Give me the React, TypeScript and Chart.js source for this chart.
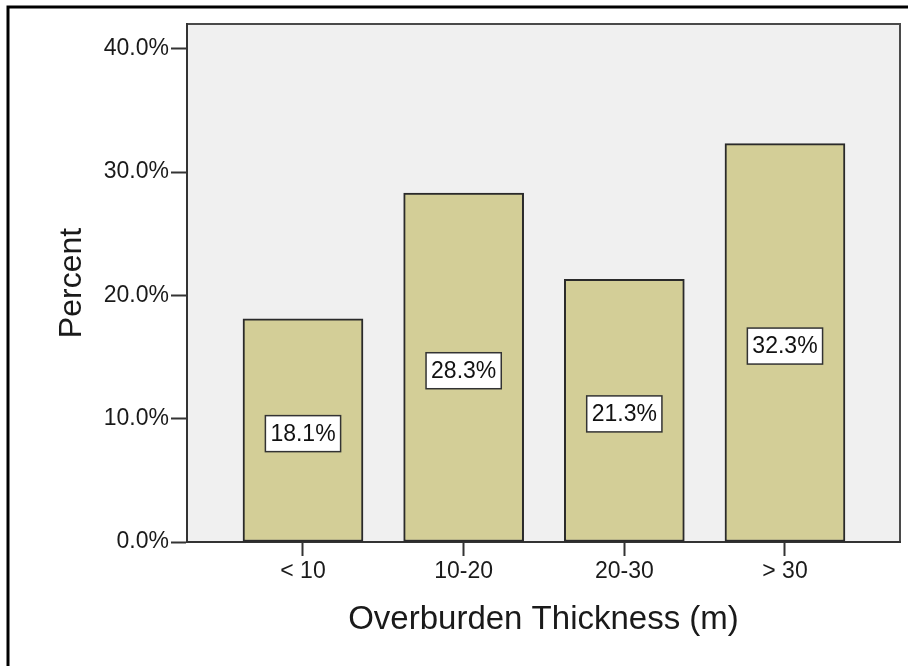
import React, { useEffect, useRef } from 'react';
import { Chart, registerables } from 'chart.js';

Chart.register(...registerables);

const categories = ['< 10', '10-20', '20-30', '> 30'];
const percents = [18.1, 28.3, 21.3, 32.3];
const yTickValues = [0, 10, 20, 30, 40];
const xTitle = 'Overburden Thickness (m)';
const yTitle = 'Percent';

const FONT = '"Liberation Sans", Arial, Helvetica, sans-serif';

export default function App() {
  const ref = useRef<HTMLCanvasElement>(null);

  useEffect(() => {
    const canvas = ref.current;
    if (!canvas) return;

    const framePlugin = {
      id: 'spssFrame',
      beforeDraw(chart: any) {
        const { ctx, chartArea: a } = chart;
        ctx.save();
        ctx.fillStyle = '#f0f0f0';
        ctx.fillRect(a.left, a.top, a.right - a.left, a.bottom - a.top);
        // outer frame (left + top)
        ctx.strokeStyle = '#000';
        ctx.lineWidth = 3;
        ctx.beginPath();
        ctx.moveTo(8, 666);
        ctx.lineTo(8, 7);
        ctx.lineTo(908, 7);
        ctx.stroke();
        // plot frame top + right
        ctx.strokeStyle = '#4a4a4a';
        ctx.lineWidth = 2;
        ctx.beginPath();
        ctx.moveTo(a.left, a.top);
        ctx.lineTo(a.right, a.top);
        ctx.lineTo(a.right, a.bottom);
        ctx.stroke();
        ctx.restore();
      },
      afterDatasetsDraw(chart: any) {
        const { ctx } = chart;
        const meta = chart.getDatasetMeta(0);
        ctx.save();
        ctx.font = `23px ${FONT}`;
        meta.data.forEach((el: any, i: number) => {
          const text = percents[i].toFixed(1) + '%';
          const w = ctx.measureText(text).width + 10;
          const h = 36;
          const cx = el.x;
          const cy = (el.y + el.base) / 2 + 3.5;
          ctx.fillStyle = '#ffffff';
          ctx.fillRect(cx - w / 2, cy - h / 2, w, h);
          ctx.strokeStyle = '#333';
          ctx.lineWidth = 1.5;
          ctx.strokeRect(cx - w / 2, cy - h / 2, w, h);
          ctx.fillStyle = '#111';
          ctx.textAlign = 'center';
          ctx.textBaseline = 'middle';
          ctx.fillText(text, cx, cy + 1);
        });
        ctx.restore();
      },
    };

    const chart = new Chart(canvas, {
      type: 'bar',
      data: {
        datasets: [
          {
            data: percents.map((v, i) => ({ x: i, y: v })),
            backgroundColor: '#d3ce97',
            borderColor: '#2a2a2a',
            borderWidth: 2,
            borderSkipped: false,
            barThickness: 120,
          },
        ],
      },
      options: {
        animation: false,
        responsive: false,
        devicePixelRatio: 1,
        layout: { padding: { top: 24, right: 8, left: 0, bottom: 0 } },
        plugins: { legend: { display: false }, tooltip: { enabled: false } },
        scales: {
          x: {
            type: 'linear',
            min: -0.722,
            max: 3.716,
            offset: false,
            afterBuildTicks: (s: any) => {
              s.ticks = categories.map((_, i) => ({ value: i }));
            },
            afterFit: (s: any) => {
              s.height = 124;
            },
            grid: {
              display: true,
              drawOnChartArea: false,
              drawTicks: true,
              tickLength: 14,
              tickWidth: 2,
              tickColor: '#333',
              offset: false,
            },
            border: { display: true, color: '#333', width: 2 },
            ticks: {
              callback: (v: any) => categories[v] ?? '',
              font: { size: 23, family: FONT },
              color: '#1a1a1a',
              padding: 2,
              maxRotation: 0,
              autoSkip: false,
            },
            title: {
              display: true,
              text: xTitle,
              font: { size: 33, family: FONT },
              color: '#1a1a1a',
              padding: { top: 0, bottom: 26 },
            },
          },
          y: {
            min: 0,
            max: 42,
            afterBuildTicks: (s: any) => {
              s.ticks = yTickValues.map((v) => ({ value: v }));
            },
            afterFit: (s: any) => {
              s.width = 187;
            },
            grid: {
              display: true,
              drawOnChartArea: false,
              drawTicks: true,
              tickLength: 16,
              tickWidth: 2,
              tickColor: '#333',
            },
            border: { display: true, color: '#333', width: 2 },
            ticks: {
              callback: (v: any) => Number(v).toFixed(1) + '%',
              font: { size: 23, family: FONT },
              color: '#1a1a1a',
              padding: 2,
            },
            title: {
              display: true,
              text: yTitle,
              font: { size: 32, family: FONT },
              color: '#1a1a1a',
              padding: { top: 53, bottom: 0 },
            },
          },
        },
      },
      plugins: [framePlugin],
    } as any);

    return () => chart.destroy();
  }, []);

  return (
    <div style={{ position: 'absolute', left: 0, top: 0, width: 908, height: 666, background: '#fff' }}>
      <canvas ref={ref} width={908} height={666} style={{ display: 'block' }} />
    </div>
  );
}
